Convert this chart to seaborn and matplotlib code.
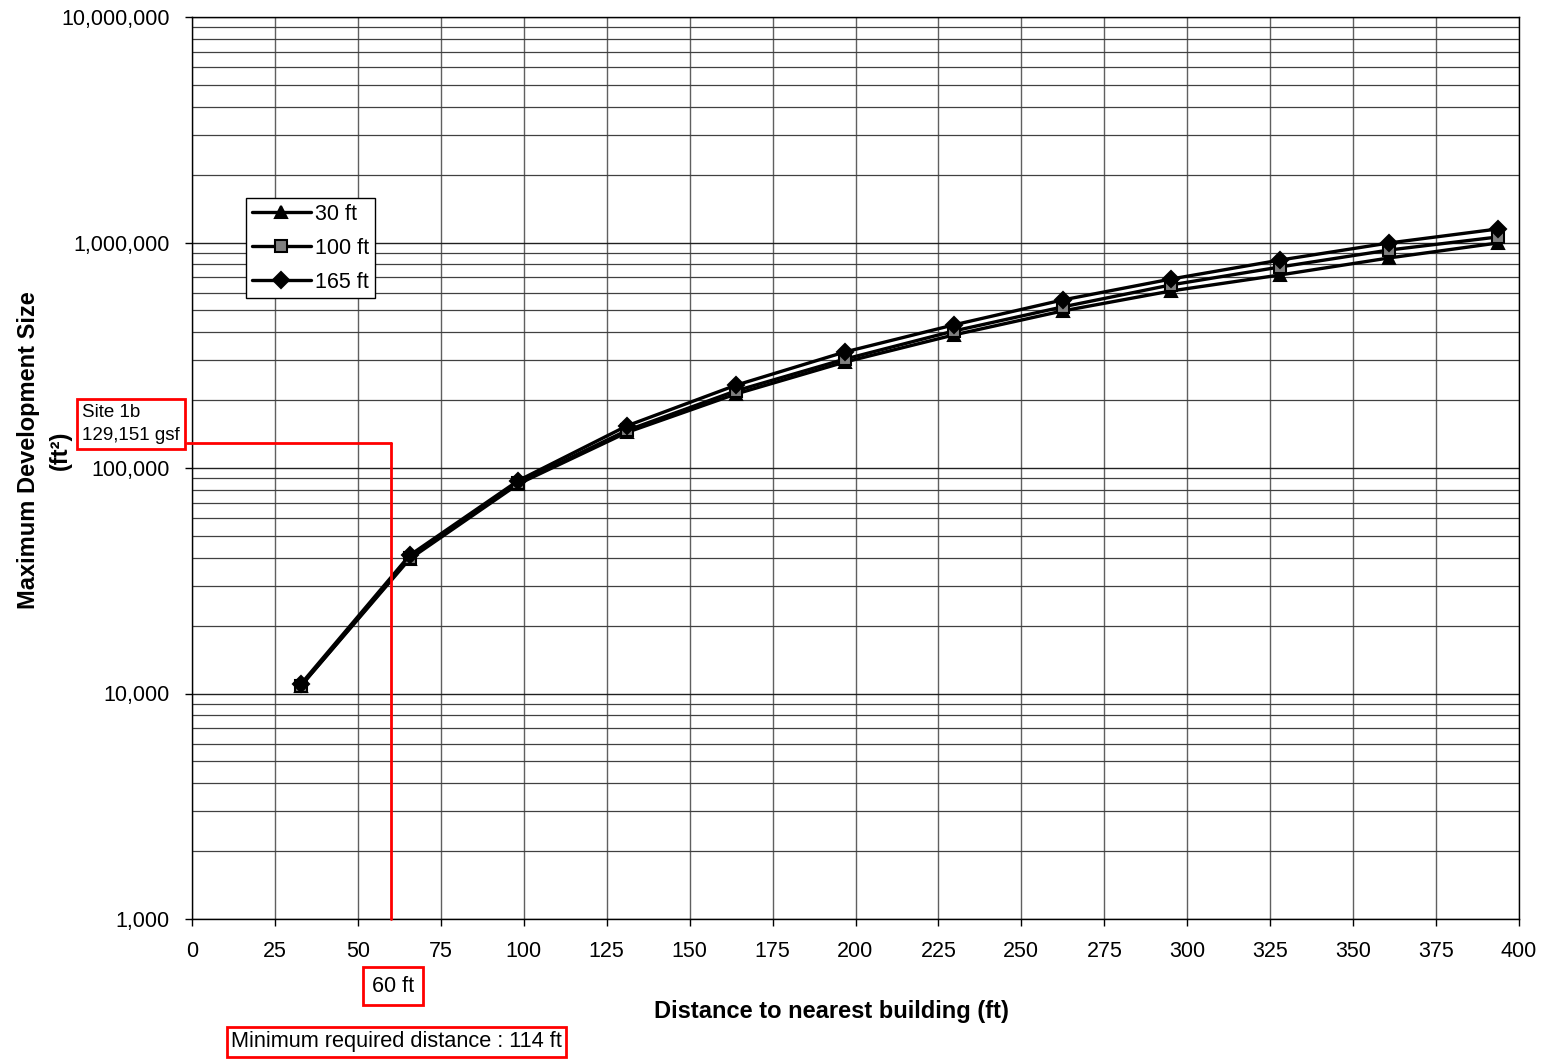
import matplotlib
matplotlib.use('Agg')
import matplotlib.pyplot as plt
import matplotlib.ticker as mticker
import seaborn as sns

# データ（ft単位の距離と最大開発規模）
distance_ft = [32.8, 65.6, 98.4, 131.2, 164.0, 196.8, 229.6, 262.4, 295.2, 328.0, 360.8, 393.6]
size_30ft = [10800, 39500, 85000, 144000, 213000, 295000, 389000, 497000, 610000, 718000, 854000, 995000]
size_100ft = [10800, 40000, 86000, 147000, 220000, 304000, 405000, 518000, 649000, 779000, 926000, 1058000]
size_165ft = [11000, 41000, 88000, 154000, 233000, 327000, 431000, 556000, 689000, 836000, 995000, 1148000]
series_labels = ['30 ft', '100 ft', '165 ft']
x_ticks = list(range(0, 401, 25))

site_gsf = 129151
site_dist = 60

sns.set_theme(style='white')
plt.rcParams['font.family'] = ['Liberation Sans', 'DejaVu Sans']
plt.rcParams['text.color'] = 'black'
plt.rcParams['axes.labelcolor'] = 'black'
plt.rcParams['xtick.color'] = 'black'
plt.rcParams['ytick.color'] = 'black'

fig = plt.figure(figsize=(15.45, 10.6), dpi=100)
ax = fig.add_axes([192 / 1545, 1 - 919 / 1060, (1519 - 192) / 1545, (919 - 17) / 1060])

# 各シリーズを描画
styles = [('^', 'black'), ('s', '#808080'), ('D', 'black')]
for vals, lab, (mk, fc) in zip([size_30ft, size_100ft, size_165ft], series_labels, styles):
    sns.lineplot(x=distance_ft, y=vals, ax=ax, color='black', lw=2.4, marker=mk,
                 markersize=9 if mk != 'D' else 8, markerfacecolor=fc,
                 markeredgecolor='black', markeredgewidth=1.5, label=lab)

ax.set_yscale('log')
ax.set_ylim(1000, 10000000)
ax.set_xlim(0, 400)
ax.set_xticks(x_ticks)
ax.yaxis.set_major_formatter(mticker.FuncFormatter(lambda v, p: f'{v:,.0f}'))
ax.yaxis.set_minor_formatter(mticker.NullFormatter())
ax.tick_params(axis='both', which='major', labelsize=15.5, length=5, width=1, direction='out',
               left=True, bottom=True, pad=11)
ax.tick_params(axis='y', which='minor', length=0)

# グリッド
ax.grid(which='major', axis='y', color='#202020', lw=1)
ax.grid(which='minor', axis='y', color='#404040', lw=0.9)
ax.grid(which='major', axis='x', color='#606060', lw=1)
for s in ax.spines.values():
    s.set_color('black')
    s.set_linewidth(1)

ax.set_xlabel('Distance to nearest building (ft)', fontsize=17, fontweight='bold')
ax.xaxis.set_label_coords((831 - 192) / 1327, -(1000 - 919) / 902)
ax.xaxis.label.set_va('top')
ax.set_ylabel('Maximum Development Size\n(ft²)', fontsize=17, fontweight='bold', linespacing=1.5)
ax.yaxis.set_label_coords((72 - 192) / 1327, 1 - (450 - 17) / 902)

leg = ax.legend(loc='upper left', bbox_to_anchor=((246 - 192) / 1327, 1 - (198 - 17) / 902),
                borderaxespad=0, fontsize=15.5, handlelength=2.75, fancybox=False,
                edgecolor='black', framealpha=1, borderpad=0.27, labelspacing=0.6, handletextpad=0.2)
leg.get_frame().set_linewidth(1)

# 赤い注記線
ax.plot([site_dist, site_dist], [1000, site_gsf], color='red', lw=2, clip_on=False, zorder=5)
ax.plot([-1.5, site_dist], [site_gsf, site_gsf], color='red', lw=2, clip_on=False, zorder=5)

fig.text(82 / 1545, 1 - 424 / 1060, 'Site 1b\n129,151 gsf', fontsize=13.5, va='center', ha='left',
         linespacing=1.45,
         bbox=dict(boxstyle='square,pad=0.28', facecolor='white', edgecolor='red', lw=2))
fig.text(393 / 1545, 1 - 986 / 1060, '60 ft', fontsize=15.5, va='center', ha='center',
         bbox=dict(boxstyle='square,pad=0.4', facecolor='white', edgecolor='red', lw=2))
fig.text(231 / 1545, 1 - 1042 / 1060, 'Minimum required distance : 114 ft', fontsize=15.7,
         va='center', ha='left',
         bbox=dict(boxstyle='square,pad=0.2', facecolor='white', edgecolor='red', lw=2))

plt.savefig('out.png', dpi=100)
